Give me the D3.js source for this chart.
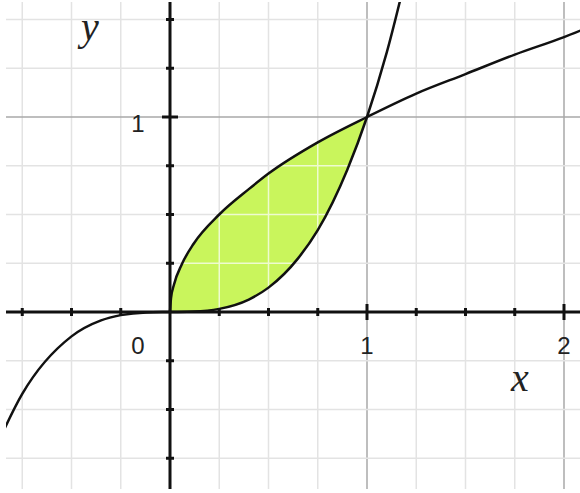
<!DOCTYPE html>
<html>
<head>
<meta charset="utf-8">
<script src="https://cdn.jsdelivr.net/npm/d3@7"></script>
<style>
  body { margin: 0; background: #fff; }
  svg { display: block; }
</style>
</head>
<body>
<svg width="580" height="493"></svg>
<script>
// points
const cubicX = [-0.9, -0.75, -0.5, -0.35, -0.25, -0.12, 0, 0.12, 0.25, 0.4, 0.5, 0.65, 0.75, 0.9, 1, 1.1, 1.2];
const cubicY = [-0.73, -0.42, -0.125, -0.043, -0.016, -0.002, 0, 0.002, 0.016, 0.064, 0.125, 0.275, 0.42, 0.73, 1, 1.33, 1.73];
const rootX = [0, 0.005, 0.02, 0.06, 0.12, 0.25, 0.4, 0.5, 0.75, 1, 1.25, 1.5, 1.75, 2, 2.1];
const rootY = [0, 0.07, 0.14, 0.245, 0.35, 0.5, 0.63, 0.71, 0.87, 1, 1.12, 1.22, 1.32, 1.41, 1.45];
const gridX = [-0.75, -0.5, -0.25, 0, 0.25, 0.5, 0.75, 1, 1.25, 1.5, 1.75, 2];
const gridY = [-0.75, -0.5, -0.25, 0, 0.25, 0.5, 0.75, 1, 1.25, 1.5];
const xTickLabels = [{ v: 0, t: "0" }, { v: 1, t: "1" }, { v: 2, t: "2" }];
const yTickLabels = [{ v: 1, t: "1" }];

var svg = d3.select("svg");

var x = d3.scaleLinear().domain([0, 2]).range([170, 564]),
    y = d3.scaleLinear().domain([0, 1]).range([312, 117]);

var padL = 6, padR = 580, padT = 2, padB = 489;

var lineGen = d3.line()
    .x(function(d) { return x(d[0]); })
    .y(function(d) { return y(d[1]); })
    .curve(d3.curveMonotoneX);

// shaded region: top edge follows the root points, bottom edge the cubic points
var topPts = rootX.map(function(d, i) { return [d, rootY[i]]; }).filter(function(p) { return p[0] <= 1; });
var lowPts = cubicX.map(function(d, i) { return [d, cubicY[i]]; }).filter(function(p) { return p[0] >= 0 && p[0] <= 1; });
var fillPath = lineGen(topPts) + "L" + lineGen(lowPts.slice().reverse()).slice(1) + "Z";

var defs = svg.append("defs");
defs.append("clipPath").attr("id", "plot")
   .append("rect").attr("x", padL).attr("y", padT)
   .attr("width", padR - padL).attr("height", padB - padT);
defs.append("clipPath").attr("id", "shade")
   .append("path").attr("d", fillPath);

var g = svg.append("g").attr("clip-path", "url(#plot)");

function gridColor(d) { return d % 1 === 0 ? "#a8a8a8" : "#e3e3e3"; }

// grid
g.selectAll(".gx").data(gridX).enter().append("line")
 .attr("x1", function(d) { return x(d); }).attr("x2", function(d) { return x(d); })
 .attr("y1", padT).attr("y2", padB)
 .attr("stroke", gridColor).attr("stroke-width", 1.5);

g.selectAll(".gy").data(gridY).enter().append("line")
 .attr("y1", function(d) { return y(d); }).attr("y2", function(d) { return y(d); })
 .attr("x1", padL).attr("x2", padR)
 .attr("stroke", gridColor).attr("stroke-width", 1.5);

g.append("path").attr("d", fillPath).attr("fill", "#c9f55c");

// pale grid lines showing through the shading
var sg = g.append("g").attr("clip-path", "url(#shade)");
sg.selectAll("line.sx").data(gridX).enter().append("line")
 .attr("x1", function(d) { return x(d); }).attr("x2", function(d) { return x(d); })
 .attr("y1", padT).attr("y2", padB)
 .attr("stroke", "#eefbd0").attr("stroke-width", 1.5);
sg.selectAll("line.sy").data(gridY).enter().append("line")
 .attr("y1", function(d) { return y(d); }).attr("y2", function(d) { return y(d); })
 .attr("x1", padL).attr("x2", padR)
 .attr("stroke", "#eefbd0").attr("stroke-width", 1.5);

// axes
g.append("line").attr("x1", padL).attr("x2", padR).attr("y1", y(0)).attr("y2", y(0))
 .attr("stroke", "#111").attr("stroke-width", 3);
g.append("line").attr("x1", x(0)).attr("x2", x(0)).attr("y1", padT).attr("y2", padB)
 .attr("stroke", "#111").attr("stroke-width", 3);

g.selectAll(".tx").data(gridX.filter(function(d) { return d !== 0; })).enter().append("line")
 .attr("x1", function(d) { return x(d); }).attr("x2", function(d) { return x(d); })
 .attr("y1", function(d) { return y(0) - (d % 1 === 0 ? 8 : 4); })
 .attr("y2", function(d) { return y(0) + (d % 1 === 0 ? 8 : 4); })
 .attr("stroke", "#111").attr("stroke-width", 3);

g.selectAll(".ty").data(gridY.filter(function(d) { return d !== 0; })).enter().append("line")
 .attr("y1", function(d) { return y(d); }).attr("y2", function(d) { return y(d); })
 .attr("x1", function(d) { return x(0) - (d % 1 === 0 ? 8 : 4); })
 .attr("x2", function(d) { return x(0) + (d % 1 === 0 ? 8 : 4); })
 .attr("stroke", "#111").attr("stroke-width", 3);

// curves
g.append("path").attr("d", lineGen(cubicX.map(function(d, i) { return [d, cubicY[i]]; })))
 .attr("fill", "none").attr("stroke", "#111").attr("stroke-width", 2.5);
g.append("path").attr("d", lineGen(rootX.map(function(d, i) { return [d, rootY[i]]; })))
 .attr("fill", "none").attr("stroke", "#111").attr("stroke-width", 2.5);

// tick labels
svg.selectAll(".lx").data(xTickLabels).enter().append("text")
 .attr("x", function(d) { return d.v === 0 ? x(0) - 32 : x(d.v); })
 .attr("y", y(0) + 42)
 .attr("text-anchor", "middle")
 .attr("font-family", "Liberation Sans, Arial, sans-serif")
 .attr("font-size", "24px").attr("fill", "#222")
 .text(function(d) { return d.t; });

svg.selectAll(".ly").data(yTickLabels).enter().append("text")
 .attr("x", x(0) - 32).attr("y", function(d) { return y(d.v) + 15; })
 .attr("text-anchor", "middle")
 .attr("font-family", "Liberation Sans, Arial, sans-serif")
 .attr("font-size", "24px").attr("fill", "#222")
 .text(function(d) { return d.t; });

// axis names
svg.append("text").attr("x", 520).attr("y", 391)
 .attr("text-anchor", "middle")
 .attr("font-family", "Liberation Serif, Times New Roman, serif")
 .attr("font-style", "italic").attr("font-size", "40px").attr("fill", "#222")
 .text("x");

svg.append("text").attr("x", 90).attr("y", 40)
 .attr("text-anchor", "middle")
 .attr("font-family", "Liberation Serif, Times New Roman, serif")
 .attr("font-style", "italic").attr("font-size", "40px").attr("fill", "#222")
 .text("y");
</script>
</body>
</html>
